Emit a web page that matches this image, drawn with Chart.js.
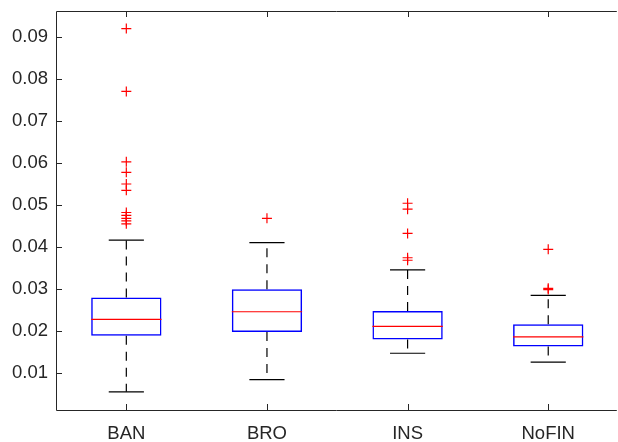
<!DOCTYPE html>
<html>
<head>
<meta charset="utf-8">
<script src="https://cdn.jsdelivr.net/npm/chart.js@4/dist/chart.umd.min.js"></script>
<style>
  html, body { margin: 0; padding: 0; background: #fff; overflow: hidden; }
  #wrap { width: 618px; height: 442px; }
</style>
</head>
<body>
<div id="wrap"><canvas id="myChart" width="618" height="442"></canvas></div>
<script>
// values
const groups = ['BAN', 'BRO', 'INS', 'NoFIN'];
const q1 = [0.0188, 0.0197, 0.0179, 0.0162];
const medians = [0.0227, 0.0245, 0.0210, 0.0185];
const q3 = [0.0279, 0.0299, 0.0247, 0.0215];
const whiskerLow = [0.0054, 0.0083, 0.0146, 0.0125];
const whiskerHigh = [0.0416, 0.0410, 0.0345, 0.0284];
const outliersBAN = [0.0921, 0.0771, 0.0603, 0.0578, 0.0550, 0.0535, 0.0482, 0.0475, 0.0468, 0.0462, 0.0455];
const outliersBRO = [0.0468];
const outliersINS = [0.0504, 0.0490, 0.0432, 0.0374, 0.0368];
const outliersNoFIN = [0.0394, 0.0301, 0.0298];
const yTicks = [0.01, 0.02, 0.03, 0.04, 0.05, 0.06, 0.07, 0.08, 0.09];

const axisColor = '#262626';

function outlierPoints() {
    const lists = [outliersBAN, outliersBRO, outliersINS, outliersNoFIN];
    const pts = [];
    lists.forEach((list, i) => {
        list.forEach((v) => pts.push({ x: i + 1, y: v }));
    });
    return pts;
}

// medians, whiskers and caps, placed with the chart's scales
const boxParts = {
    id: 'boxParts',
    afterDatasetsDraw(chart) {
        const ctx = chart.ctx;
        const xs = chart.scales.x;
        const ys = chart.scales.y;
        ctx.save();
        groups.forEach((g, i) => {
            const pos = i + 1;
            const cx = xs.getPixelForValue(pos);
            const boxL = xs.getPixelForValue(pos - 0.25);
            const boxR = xs.getPixelForValue(pos + 0.25);
            const capL = xs.getPixelForValue(pos - 0.125);
            const capR = xs.getPixelForValue(pos + 0.125);

            // median
            ctx.strokeStyle = '#ff0000';
            ctx.lineWidth = 1.2;
            ctx.setLineDash([]);
            ctx.beginPath();
            ctx.moveTo(boxL, ys.getPixelForValue(medians[i]));
            ctx.lineTo(boxR, ys.getPixelForValue(medians[i]));
            ctx.stroke();

            // dashed whiskers
            ctx.strokeStyle = '#000000';
            ctx.lineWidth = 1.2;
            ctx.setLineDash([9, 7]);
            ctx.beginPath();
            ctx.moveTo(cx, ys.getPixelForValue(q3[i]));
            ctx.lineTo(cx, ys.getPixelForValue(whiskerHigh[i]));
            ctx.moveTo(cx, ys.getPixelForValue(q1[i]));
            ctx.lineTo(cx, ys.getPixelForValue(whiskerLow[i]));
            ctx.stroke();

            // caps
            ctx.setLineDash([]);
            ctx.beginPath();
            ctx.moveTo(capL, ys.getPixelForValue(whiskerHigh[i]));
            ctx.lineTo(capR, ys.getPixelForValue(whiskerHigh[i]));
            ctx.moveTo(capL, ys.getPixelForValue(whiskerLow[i]));
            ctx.lineTo(capR, ys.getPixelForValue(whiskerLow[i]));
            ctx.stroke();
        });
        ctx.restore();
    }
};

// matlab style frame with inward ticks
const axesFrame = {
    id: 'axesFrame',
    afterDraw(chart) {
        const ctx = chart.ctx;
        const a = chart.chartArea;
        const xs = chart.scales.x;
        const ys = chart.scales.y;
        ctx.save();
        ctx.strokeStyle = axisColor;
        ctx.lineWidth = 1;
        ctx.setLineDash([]);
        ctx.beginPath();
        ctx.moveTo(a.right + 5, a.top + 0.5);
        ctx.lineTo(a.left + 0.5, a.top + 0.5);
        ctx.lineTo(a.left + 0.5, a.bottom + 0.5);
        ctx.lineTo(a.right + 5, a.bottom + 0.5);
        xs.ticks.forEach((t) => {
            const px = Math.round(xs.getPixelForValue(t.value)) + 0.5;
            ctx.moveTo(px, a.bottom);
            ctx.lineTo(px, a.bottom - 6);
            ctx.moveTo(px, a.top);
            ctx.lineTo(px, a.top + 6);
        });
        ys.ticks.forEach((t) => {
            const py = Math.round(ys.getPixelForValue(t.value)) + 0.5;
            ctx.moveTo(a.left, py);
            ctx.lineTo(a.left + 6, py);
        });
        ctx.stroke();
        ctx.restore();
    }
};

function initChart(target) {
    const data = {
        datasets: [
            {
                type: 'bar',
                data: groups.map((g, i) => ({ x: i + 1, y: [q1[i], q3[i]] })),
                backgroundColor: 'rgba(0,0,0,0)',
                borderColor: '#0000ff',
                hoverBorderColor: '#0000ff',
                borderWidth: 1.5,
                borderSkipped: false,
                barPercentage: 0.5,
                categoryPercentage: 1
            },
            {
                type: 'scatter',
                data: outlierPoints(),
                pointStyle: 'cross',
                pointRadius: 5,
                borderColor: '#ff0000',
                borderWidth: 1.2
            }
        ]
    };

    const config = {
        data: data,
        options: {
            responsive: false,
            animation: false,
            events: [],
            layout: { padding: { top: 11, right: 0, left: 0, bottom: 0 } },
            plugins: { legend: { display: false }, tooltip: { enabled: false } },
            scales: {
                x: {
                    type: 'linear',
                    offset: false,
                    min: 0.5,
                    max: 4.452,
                    afterBuildTicks: (scale) => {
                        scale.ticks = groups.map((g, i) => ({ value: i + 1 }));
                    },
                    afterFit: (scale) => {
                        scale.height = 32;
                        scale.paddingLeft = 0;
                        scale.paddingRight = 0;
                    },
                    grid: { display: false, drawTicks: false, offset: false },
                    border: { display: false },
                    ticks: {
                        color: axisColor,
                        font: { family: 'Liberation Sans, Arial', size: 18.5 },
                        padding: 13,
                        maxRotation: 0,
                        callback: (v) => groups[Math.round(v) - 1]
                    }
                },
                y: {
                    type: 'linear',
                    min: 0.00105,
                    max: 0.0963,
                    afterBuildTicks: (scale) => {
                        scale.ticks = yTicks.map((v) => ({ value: v }));
                    },
                    afterFit: (scale) => {
                        scale.width = 56;
                        scale.paddingTop = 0;
                        scale.paddingBottom = 0;
                    },
                    grid: { display: false, drawTicks: false },
                    border: { display: false },
                    ticks: {
                        color: axisColor,
                        font: { family: 'Liberation Sans, Arial', size: 18.5 },
                        padding: 8,
                        callback: (v) => v.toFixed(2)
                    }
                }
            }
        },
        plugins: [boxParts, axesFrame]
    };

    return new Chart(target, config);
}

document.addEventListener('DOMContentLoaded', () => {
    initChart(document.querySelector('#myChart'));
});
</script>
</body>
</html>
